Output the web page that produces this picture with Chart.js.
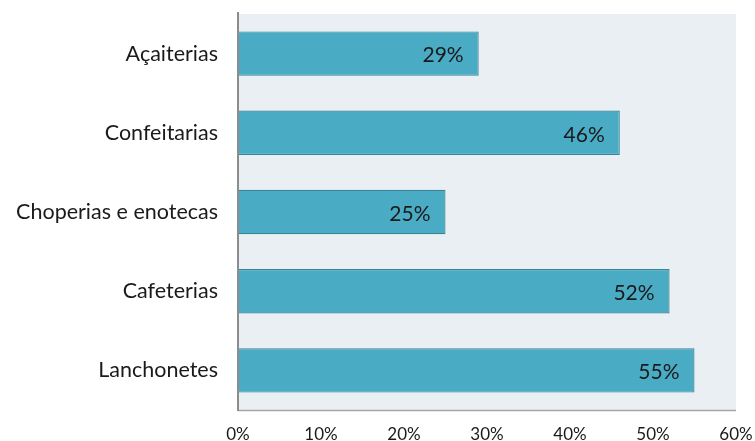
<!DOCTYPE html>
<html>
<head>
<meta charset="utf-8">
<script src="https://cdn.jsdelivr.net/npm/chart.js@4/dist/chart.umd.min.js"></script>
<style>
  html, body { margin: 0; padding: 0; background: #ffffff; }
  #wrap { width: 755px; height: 441px; position: relative; }
</style>
</head>
<body>
<div id="wrap"><canvas id="chart"></canvas></div>
<script>
var categories = ['Açaiterias', 'Confeitarias', 'Choperias e enotecas', 'Cafeterias', 'Lanchonetes'];
var shares = [29, 46, 25, 52, 55];
var tickValues = [0, 10, 20, 30, 40, 50, 60];

var FONT = 'Lato, "Open Sans", sans-serif';

// light panel behind the plot area
var panelBg = {
  id: 'panelBg',
  beforeDraw: function (chart) {
    var a = chart.chartArea;
    var ctx = chart.ctx;
    ctx.save();
    ctx.fillStyle = '#e9eff3';
    ctx.fillRect(a.left, a.top, a.right - a.left, a.bottom - a.top);
    // bottom frame line
    ctx.strokeStyle = '#a6a6a6';
    ctx.lineWidth = 1.5;
    ctx.beginPath();
    ctx.moveTo(a.left, a.bottom + 0.5);
    ctx.lineTo(a.right, a.bottom + 0.5);
    ctx.stroke();
    ctx.restore();
  },
  afterDatasetsDraw: function (chart) {
    var a = chart.chartArea;
    var ctx = chart.ctx;
    ctx.save();
    // value axis line on the left
    ctx.strokeStyle = '#8c8c8c';
    ctx.lineWidth = 2;
    ctx.beginPath();
    ctx.moveTo(a.left, a.top - 2);
    ctx.lineTo(a.left, a.bottom + 1);
    ctx.stroke();
    ctx.restore();
  }
};

// percentage written near the end of each bar
var valueLabels = {
  id: 'valueLabels',
  afterDatasetsDraw: function (chart) {
    var ctx = chart.ctx;
    var meta = chart.getDatasetMeta(0);
    ctx.save();
    ctx.font = '21px ' + FONT;
    ctx.fillStyle = '#1a1a1a';
    ctx.textAlign = 'right';
    ctx.textBaseline = 'middle';
    meta.data.forEach(function (bar, i) {
      ctx.fillText(shares[i] + '%', bar.x - 15, bar.y + 2);
    });
    ctx.restore();
  }
};

new Chart(document.getElementById('chart'), {
  type: 'bar',
  data: {
    labels: categories,
    datasets: [{
      data: shares,
      backgroundColor: '#4aabc5',
      borderColor: '#3a8396',
      borderWidth: 1.2,
      borderSkipped: 'left',
      categoryPercentage: 1,
      barPercentage: 0.56
    }]
  },
  options: {
    indexAxis: 'y',
    responsive: true,
    maintainAspectRatio: false,
    animation: false,
    layout: { padding: { top: 14, right: 19, left: 0, bottom: 0 } },
    plugins: {
      legend: { display: false },
      tooltip: { enabled: false }
    },
    scales: {
      x: {
        min: 0,
        max: 60,
        afterBuildTicks: function (axis) {
          axis.ticks = tickValues.map(function (v) { return { value: v }; });
        },
        afterFit: function (axis) {
          axis.height = 31;
          axis.paddingLeft = 0;
          axis.paddingRight = 0;
        },
        grid: { display: false, drawTicks: false },
        border: { display: false },
        ticks: {
          padding: 14,
          maxRotation: 0,
          color: '#1a1a1a',
          font: { family: FONT, size: 17 },
          callback: function (v) { return v + '%'; }
        }
      },
      y: {
        afterFit: function (axis) {
          axis.width = 238;
          axis.paddingTop = 0;
          axis.paddingBottom = 0;
        },
        grid: { display: false, drawTicks: false },
        border: { display: false },
        ticks: {
          padding: 20,
          color: '#1a1a1a',
          font: { family: FONT, size: 21.5 }
        }
      }
    }
  },
  plugins: [panelBg, valueLabels]
});
</script>
</body>
</html>
